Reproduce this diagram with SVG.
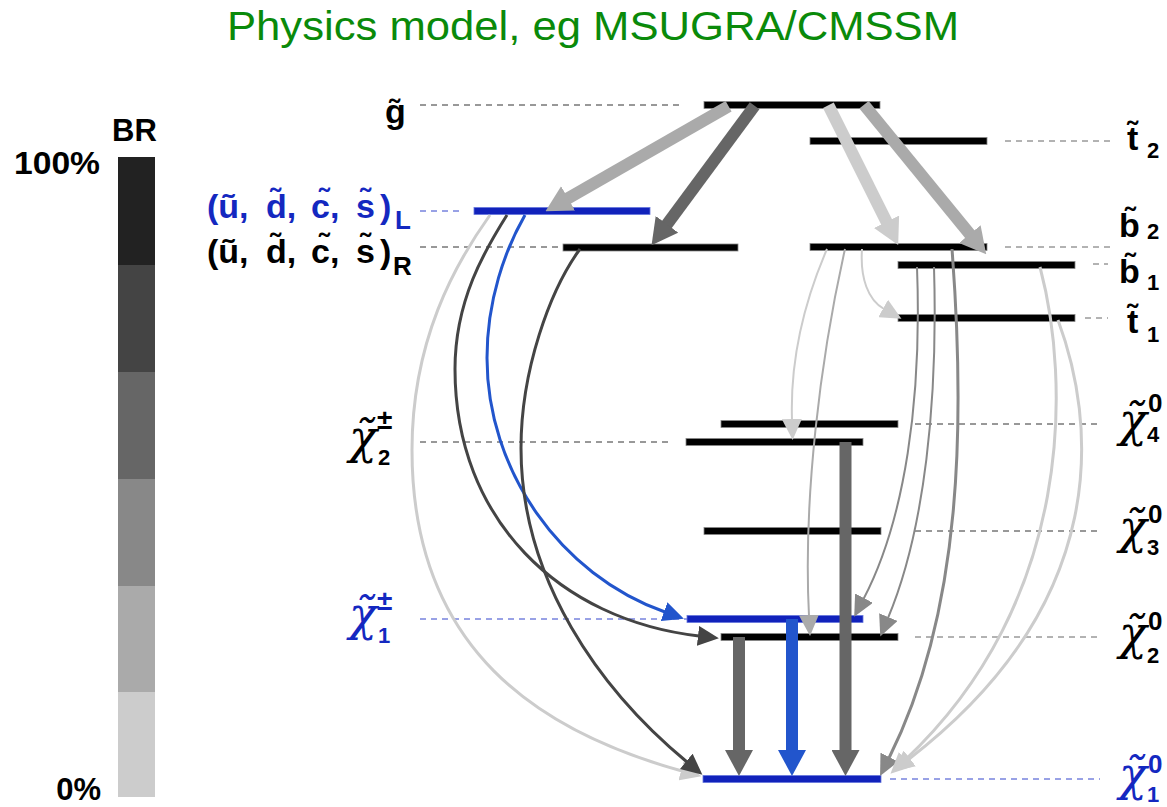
<svg xmlns="http://www.w3.org/2000/svg" width="1167" height="807" viewBox="0 0 1167 807">
<style>
  .bar { fill: #000; stroke: #888; stroke-width: 0.8; }
  .bbar { fill: #1122bb; stroke: #6677dd; stroke-width: 0.8; }
  .lbl { font-family: "Liberation Sans", Arial, sans-serif; font-weight: bold; font-size: 34px; fill: #000; }
  .sub { font-family: "Liberation Sans", Arial, sans-serif; font-style: normal; font-weight: bold; font-size: 22px; }
  .sup { font-family: "Liberation Sans", Arial, sans-serif; font-style: normal; font-weight: bold; font-size: 26px; }
  .pm { font-family: "Liberation Sans", Arial, sans-serif; font-style: normal; font-weight: bold; font-size: 28px; }
  .sl { font-size: 26px; }
  .chi { font-family: "DejaVu Serif", "Liberation Serif", serif; font-style: italic; font-size: 46px; fill: #000; }
  .br { font-family: "Liberation Sans", Arial, sans-serif; font-weight: bold; font-size: 31px; fill: #000; }
  .dl { stroke: #333; stroke-width: 1; stroke-dasharray: 6 5; fill: none; }
  .dr { stroke: #666; stroke-width: 1; stroke-dasharray: 6 5; fill: none; }
  .db { stroke: #3344cc; stroke-width: 1; stroke-dasharray: 6 5; fill: none; }
  .thick { stroke-width: 12; fill: none; stroke-linecap: butt; }
  .thin { fill: none; }
  text.blue, tspan.blue { fill: #1428c0; }
</style>
<defs>
  <marker id="bA" markerUnits="userSpaceOnUse" viewBox="0 0 26 28" refX="1" refY="14" markerWidth="26" markerHeight="28" orient="auto"><path d="M0,0 L26,14 L0,28 Z" fill="#aaaaaa"/></marker>
  <marker id="b6" markerUnits="userSpaceOnUse" viewBox="0 0 26 28" refX="1" refY="14" markerWidth="26" markerHeight="28" orient="auto"><path d="M0,0 L26,14 L0,28 Z" fill="#666666"/></marker>
  <marker id="bC" markerUnits="userSpaceOnUse" viewBox="0 0 26 28" refX="1" refY="14" markerWidth="26" markerHeight="28" orient="auto"><path d="M0,0 L26,14 L0,28 Z" fill="#cccccc"/></marker>
  <marker id="bB" markerUnits="userSpaceOnUse" viewBox="0 0 26 28" refX="1" refY="14" markerWidth="26" markerHeight="28" orient="auto"><path d="M0,0 L26,14 L0,28 Z" fill="#2255cc"/></marker>
  <marker id="sC" markerUnits="userSpaceOnUse" viewBox="0 0 21 20" refX="1" refY="10" markerWidth="21" markerHeight="20" orient="auto"><path d="M0,0 L21,10 L0,20 Z" fill="#cccccc"/></marker>
  <marker id="sA" markerUnits="userSpaceOnUse" viewBox="0 0 21 20" refX="1" refY="10" markerWidth="21" markerHeight="20" orient="auto"><path d="M0,0 L21,10 L0,20 Z" fill="#aaaaaa"/></marker>
  <marker id="s8" markerUnits="userSpaceOnUse" viewBox="0 0 21 20" refX="1" refY="10" markerWidth="21" markerHeight="20" orient="auto"><path d="M0,0 L21,10 L0,20 Z" fill="#888888"/></marker>
  <marker id="s4" markerUnits="userSpaceOnUse" viewBox="0 0 21 20" refX="1" refY="10" markerWidth="21" markerHeight="20" orient="auto"><path d="M0,0 L21,10 L0,20 Z" fill="#444444"/></marker>
  <marker id="sB" markerUnits="userSpaceOnUse" viewBox="0 0 21 20" refX="1" refY="10" markerWidth="21" markerHeight="20" orient="auto"><path d="M0,0 L21,10 L0,20 Z" fill="#2255cc"/></marker>
</defs>

<rect width="1167" height="807" fill="#fff"/>

<text id="title" x="227" y="40" textLength="732" lengthAdjust="spacingAndGlyphs" font-family="Liberation Sans, Arial, sans-serif" font-size="40" fill="#0a8a0a">Physics model, eg MSUGRA/CMSSM</text>

<g id="br-scale">
  <text class="br" x="112" y="141">BR</text>
  <text class="br" x="14" y="174" textLength="86" lengthAdjust="spacingAndGlyphs">100%</text>
  <text class="br" x="101" y="800" text-anchor="end">0%</text>
  <rect x="118" y="157" width="37" height="108" fill="#222"/>
  <rect x="118" y="265" width="37" height="107" fill="#444"/>
  <rect x="118" y="372" width="37" height="107" fill="#666"/>
  <rect x="118" y="479" width="37" height="107" fill="#888"/>
  <rect x="118" y="586" width="37" height="106" fill="#aaa"/>
  <rect x="118" y="692" width="37" height="105" fill="#ccc"/>
</g>

<g id="guides">
  <line class="dl" x1="420" y1="105" x2="682" y2="105"/>
  <line class="db" x1="420" y1="211" x2="460" y2="211"/>
  <line class="dl" x1="420" y1="247" x2="558" y2="247"/>
  <line class="dl" x1="420" y1="442" x2="672" y2="442"/>
  <line class="db" x1="420" y1="619" x2="687" y2="619" stroke-dasharray="4 4"/>
  <line class="dr" x1="1005" y1="141" x2="1112" y2="141"/>
  <line class="dr" x1="1005" y1="247" x2="1112" y2="247"/>
  <line class="dr" x1="1093" y1="264" x2="1108" y2="264"/>
  <line class="dr" x1="1085" y1="318" x2="1108" y2="318"/>
  <line class="dl" x1="915" y1="424" x2="1100" y2="424"/>
  <line class="dl" x1="915" y1="531" x2="1100" y2="531"/>
  <line class="dr" x1="915" y1="637" x2="1100" y2="637"/>
  <line class="db" x1="890" y1="779" x2="1100" y2="779"/>
</g>

<g id="n-gluino"><rect class="bar" x="704" y="101.5" width="176" height="7"/><text class="lbl" x="385" y="123">g&#x303;</text></g>
<g id="n-stop2"><rect class="bar" x="810" y="137.5" width="177" height="7"/><text class="lbl" x="1127" y="150">t&#x303;<tspan class="sub" x="1147" y="158">2</tspan></text></g>
<g id="n-sqL"><rect class="bbar" x="474" y="207.5" width="176" height="7"/>
  <text class="lbl blue" y="218"><tspan x="207">(u&#x303;,</tspan><tspan x="266">d&#x303;,</tspan><tspan x="311">c&#x303;,</tspan><tspan x="356">s&#x303;</tspan><tspan x="380">)</tspan><tspan class="sl" x="395" y="229">L</tspan></text></g>
<g id="n-sqR"><rect class="bar" x="563" y="244" width="175" height="7"/>
  <text class="lbl" y="263"><tspan x="207">(u&#x303;,</tspan><tspan x="266">d&#x303;,</tspan><tspan x="311">c&#x303;,</tspan><tspan x="356">s&#x303;</tspan><tspan x="380">)</tspan><tspan class="sl" x="393" y="275">R</tspan></text></g>
<g id="n-sb2"><rect class="bar" x="810" y="243.5" width="177" height="7"/><text class="lbl" x="1119" y="237">b&#x303;<tspan class="sub" x="1147" y="239">2</tspan></text></g>
<g id="n-sb1"><rect class="bar" x="898" y="261.5" width="177" height="7"/><text class="lbl" x="1119" y="283">b&#x303;<tspan class="sub" x="1147" y="290">1</tspan></text></g>
<g id="n-stop1"><rect class="bar" x="898" y="314.5" width="177" height="7"/><text class="lbl" x="1127" y="333">t&#x303;<tspan class="sub" x="1147" y="342">1</tspan></text></g>
<g id="n-chi04"><rect class="bar" x="721" y="420.5" width="177" height="7"/><text class="chi" x="1119" y="436">χ&#x303;<tspan class="sup" x="1148" y="412">0</tspan><tspan class="sub" x="1147" y="442">4</tspan></text></g>
<g id="n-chi2pm"><rect class="bar" x="686" y="438.5" width="177" height="7"/><text class="chi" x="349" y="453">χ&#x303;<tspan class="pm" x="377" y="429">±</tspan><tspan class="sub" x="378" y="465">2</tspan></text></g>
<g id="n-chi03"><rect class="bar" x="704" y="527.5" width="177" height="7"/><text class="chi" x="1119" y="543">χ&#x303;<tspan class="sup" x="1148" y="523">0</tspan><tspan class="sub" x="1147" y="555">3</tspan></text></g>
<g id="n-chi1pm"><rect class="bbar" x="687" y="615.5" width="176" height="7"/><text class="chi blue" x="349" y="630">χ&#x303;<tspan class="pm" x="377" y="610">±</tspan><tspan class="sub" x="378" y="643">1</tspan></text></g>
<g id="n-chi02"><rect class="bar" x="721" y="633.5" width="177" height="7"/><text class="chi" x="1119" y="649">χ&#x303;<tspan class="sup" x="1148" y="630">0</tspan><tspan class="sub" x="1147" y="663">2</tspan></text></g>
<g id="n-chi01"><rect class="bbar" x="703" y="775.5" width="178" height="7"/><text class="chi blue" x="1119" y="790">χ&#x303;<tspan class="sup" x="1148" y="773">0</tspan><tspan class="sub" x="1147" y="802">1</tspan></text></g>

<g id="connectors">
  <line class="thick" x1="728.6" y1="106.3" x2="567.2" y2="198.8" stroke="#aaa" marker-end="url(#bA)"/>
  <line class="thick" x1="754.6" y1="105.8" x2="666.4" y2="225.1" stroke="#666" marker-end="url(#b6)"/>
  <line class="thick" x1="828.4" y1="105.3" x2="887" y2="222.7" stroke="#ccc" marker-end="url(#bC)"/>
  <line class="thick" x1="864" y1="104.7" x2="970.4" y2="234.9" stroke="#aaa" marker-end="url(#bA)"/>
  <line class="thick" x1="739" y1="637" x2="739" y2="751" stroke="#666" marker-end="url(#b6)"/>
  <line class="thick" x1="792" y1="619" x2="792" y2="751" stroke="#2255cc" marker-end="url(#bB)"/>
  <line class="thick" x1="845.5" y1="442" x2="845.5" y2="751" stroke="#666" marker-end="url(#b6)"/>

  <path class="thin" d="M490,215 C455,264 412,340 412,450 C412,650 540,732 682,771" stroke="#ccc" stroke-width="3" marker-end="url(#sC)"/>
  <path class="thin" d="M507,215 C485,250 455,300 455,369 C455,520 560,620 699,636" stroke="#444" stroke-width="3" marker-end="url(#s4)"/>
  <path class="thin" d="M525,215 C505,250 487,300 487,358 C487,470 560,575 665,612" stroke="#2255cc" stroke-width="3" marker-end="url(#sB)"/>
  <path class="thin" d="M580,249 C550,290 521,370 521,448 C521,580 600,690 687,762" stroke="#444" stroke-width="3" marker-end="url(#s4)"/>

  <path class="thin" d="M862,249 C860,278 868,300 884,309" stroke="#ccc" stroke-width="2" marker-end="url(#sC)"/>
  <path class="thin" d="M827,249 C805,300 790,360 792,420" stroke="#ccc" stroke-width="2" marker-end="url(#sC)"/>
  <path class="thin" d="M845,249 C820,360 803,500 809,616" stroke="#aaa" stroke-width="2" marker-end="url(#sA)"/>
  <path class="thin" d="M917,267 C922,400 905,520 863.5,599" stroke="#888" stroke-width="2" marker-end="url(#s8)"/>
  <path class="thin" d="M934,267 C938,400 925,530 888,618" stroke="#888" stroke-width="2" marker-end="url(#s8)"/>
  <path class="thin" d="M952,249 C965,420 963,610 889,758" stroke="#888" stroke-width="3" marker-end="url(#s8)"/>
  <path class="thin" d="M1040,267 C1070,380 1075,600 905,760" stroke="#ccc" stroke-width="3" marker-end="url(#sC)"/>
  <path class="thin" d="M1058,320 C1095,420 1115,600 909,759" stroke="#ccc" stroke-width="3" marker-end="url(#sC)"/>
</g>
</svg>
